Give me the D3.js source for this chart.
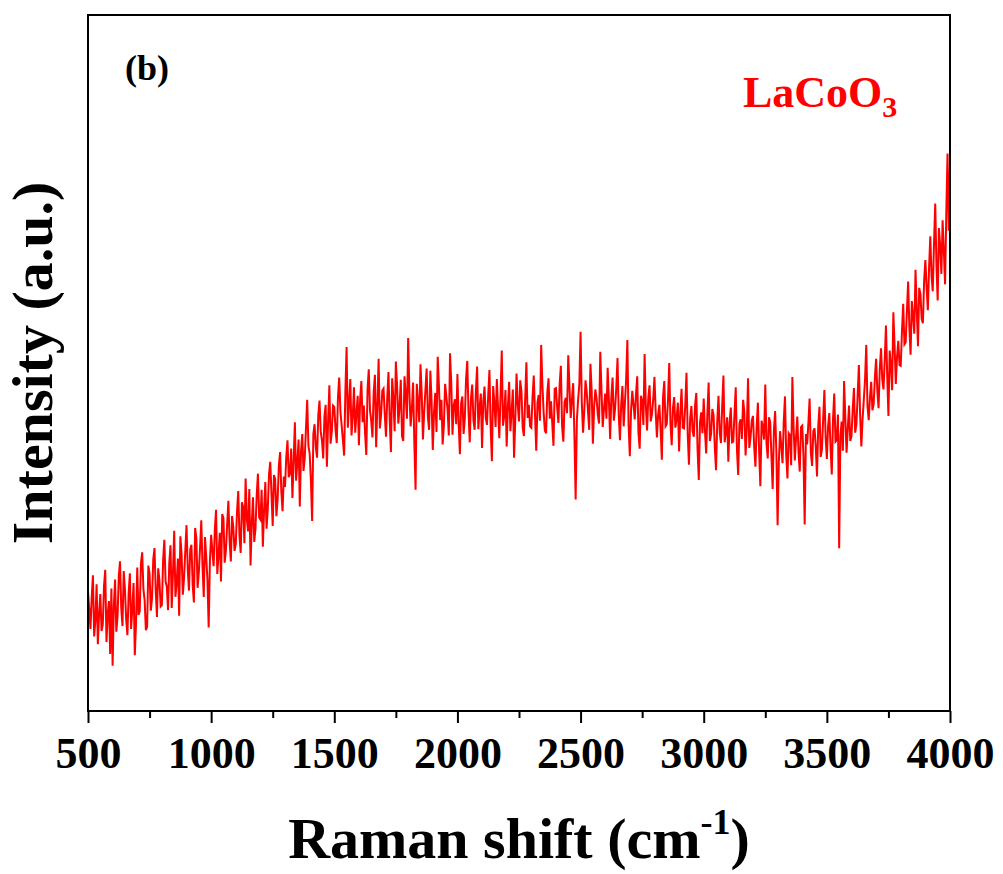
<!doctype html>
<html>
<head>
<style>
    body { margin: 0; background: #fff; }
    text { font-family: "Liberation Serif", "Times New Roman", serif; font-weight: bold; }
    .line { fill: none; stroke: #ff0000; stroke-width: 2px; stroke-linejoin: miter; }
</style>
<script src="https://d3js.org/d3.v7.min.js"></script>
</head>
<body>
<svg width="1003" height="874"></svg>
<script>

    // Raman shift: "intensity" read at 500, 510, ... 4000 cm-1,
    // "intensityMid" read in between, at 505, 515, ... 3995 cm-1
    var shiftStart = 500, shiftStep = 10;
    var intensity = [
        17.2, 11.8, 19.5, 13.1, 9.6, 16.8, 12.4, 20.3, 14.0, 8.2,
        6.5, 18.9, 13.6, 21.5, 12.2, 17.4, 10.9, 19.8, 14.7, 8.0,
        20.6, 14.3, 22.8, 15.9, 12.1, 19.7, 16.2, 23.4, 13.5, 18.8,
        15.2, 24.6, 17.9, 21.3, 14.8, 25.9, 18.4, 13.7, 22.5, 19.1,
        26.7, 17.3, 23.9, 15.6, 24.8, 19.9, 27.4, 16.4, 22.1, 12.0,
        25.3, 20.8, 28.9, 22.4, 18.6, 27.7, 23.1, 30.2, 21.5, 26.4,
        24.0, 31.6, 22.7, 29.3, 33.4, 25.8, 20.9, 30.7, 26.2, 34.1,
        27.5, 23.6, 32.9, 29.1, 35.8, 26.6, 33.3, 30.4, 37.2, 28.7,
        32.2, 38.9, 34.1, 30.6, 41.5, 35.7, 29.4, 39.8, 36.3, 44.7,
        37.0, 27.3, 41.2, 36.4, 44.6, 38.9, 42.3, 35.1, 46.8, 40.2,
        43.7, 38.5, 47.9, 41.0, 36.7, 52.3, 44.1, 39.6, 46.5, 42.8,
        38.2, 47.4, 43.9, 36.8, 49.1, 41.7, 45.8, 37.9, 50.6, 42.5,
        46.3, 39.4, 48.7, 37.2, 44.9, 50.2, 41.3, 47.6, 38.8, 45.5,
        53.6, 40.9, 47.2, 31.8, 44.4, 49.8, 39.0, 46.1, 42.2, 48.9,
        37.5, 45.7, 50.9, 41.8, 38.3, 47.0, 43.3, 51.4, 39.7, 44.8,
        48.4, 36.9, 45.2, 42.0, 50.3, 38.6, 46.9, 40.4, 49.5, 43.6,
        37.8, 46.6, 41.1, 49.0, 35.9, 44.3, 47.7, 39.2, 51.8, 42.4,
        38.0, 47.3, 43.0, 36.4, 48.5, 41.6, 45.9, 39.5, 50.1, 44.0,
        40.7, 48.2, 37.4, 45.4, 52.6, 42.9, 39.9, 47.8, 44.5, 38.1,
        46.4, 41.4, 49.6, 38.7, 45.0, 51.1, 42.1, 47.1, 30.4, 44.7,
        54.5, 40.0, 47.5, 43.2, 49.9, 38.4, 46.2, 42.6, 51.6, 40.8,
        45.6, 49.3, 39.1, 47.9, 43.4, 50.7, 38.9, 46.7, 44.2, 53.3,
        36.6, 46.0, 41.9, 48.1, 37.7, 44.6, 51.3, 40.3, 46.8, 42.7,
        48.0, 39.3, 44.0, 36.1, 47.4, 41.2, 50.0, 38.2, 45.1, 42.0,
        37.3, 46.3, 40.6, 48.6, 35.4, 43.8, 39.4, 45.7, 33.2, 42.9,
        44.9, 37.0, 47.2, 39.8, 42.5, 34.6, 45.3, 38.5, 48.2, 40.1,
        35.8, 43.6, 38.7, 46.5, 33.9, 41.9, 44.7, 36.7, 47.8, 39.2,
        42.4, 35.1, 44.3, 32.3, 40.8, 46.9, 36.3, 41.5, 31.9, 43.1,
        26.7, 40.2, 35.6, 45.2, 33.4, 39.6, 48.0, 36.0, 42.3, 34.4,
        41.0, 26.8, 38.3, 44.9, 35.2, 40.6, 33.7, 43.7, 37.6, 46.1,
        36.2, 42.8, 34.0, 45.6, 38.9, 23.4, 41.6, 47.4, 37.1, 43.9,
        39.5, 46.4, 41.2, 49.7, 38.0, 44.7, 52.6, 41.8, 47.3, 44.1,
        50.6, 43.5, 52.1, 46.2, 55.4, 42.4, 49.8, 57.3, 47.0, 53.2,
        49.6, 58.5, 53.0, 61.7, 51.2, 56.8, 63.4, 52.4, 59.9, 55.7,
        64.8, 57.6, 68.2, 60.3, 72.9, 59.0, 66.9, 70.5, 61.3, 80.1,
        78.4
    ];
    var intensityMid = [
        14.6, 16.3, 10.7, 18.2, 13.9, 11.5, 18.0, 9.9, 15.8, 17.6,
        15.1, 11.4, 19.3, 14.8, 20.1, 13.2, 16.9, 11.8, 18.4, 12.6,
        13.8, 21.2, 17.5, 11.6, 20.9, 14.4, 21.8, 17.3, 20.5, 15.0,
        21.7, 18.6, 14.5, 23.8, 19.8, 16.4, 21.9, 25.1, 16.7, 23.0,
        20.4, 23.2, 18.1, 26.3, 17.7, 23.5, 20.7, 25.0, 18.9, 21.6,
        22.9, 26.1, 19.7, 25.6, 28.3, 21.3, 26.8, 24.4, 28.0, 23.0,
        28.6, 25.2, 30.0, 24.1, 27.6, 31.9, 27.0, 24.3, 31.0, 27.8,
        31.8, 29.0, 26.2, 34.0, 31.2, 33.9, 28.0, 35.3, 31.5, 33.7,
        36.5, 33.6, 37.7, 35.9, 33.1, 39.0, 37.4, 34.5, 40.6, 38.1,
        33.2, 39.8, 37.9, 42.5, 40.1, 36.3, 44.0, 41.7, 38.4, 43.9,
        40.5, 45.1, 43.0, 38.9, 45.9, 40.7, 47.7, 42.3, 40.0, 45.3,
        44.8, 41.5, 39.9, 46.2, 43.2, 39.3, 48.3, 44.0, 40.6, 46.0,
        42.6, 45.0, 41.9, 47.8, 40.2, 46.8, 43.7, 39.5, 48.1, 42.0,
        45.8, 43.5, 38.5, 47.0, 41.5, 45.6, 43.0, 49.2, 40.4, 44.6,
        42.9, 40.1, 46.6, 44.7, 41.0, 45.2, 39.6, 47.1, 43.9, 41.2,
        41.4, 44.2, 39.8, 47.7, 43.0, 44.9, 41.8, 46.0, 40.5, 45.6,
        44.5, 42.1, 45.4, 40.6, 46.7, 40.8, 43.5, 45.3, 41.0, 46.1,
        43.8, 40.2, 46.2, 41.9, 44.0, 47.5, 40.7, 44.8, 42.1, 40.9,
        45.1, 42.6, 44.3, 41.7, 46.9, 40.3, 45.8, 42.0, 41.3, 46.3,
        43.6, 46.9, 40.9, 44.4, 42.8, 46.5, 44.8, 39.6, 41.9, 47.0,
        44.3, 43.1, 45.8, 40.4, 46.1, 43.7, 44.9, 41.3, 46.0, 43.4,
        42.0, 44.8, 45.2, 41.7, 46.4, 42.5, 44.1, 40.9, 47.6, 41.1,
        43.2, 44.0, 45.5, 40.0, 45.3, 41.1, 43.9, 45.0, 41.6, 44.8,
        43.0, 42.6, 40.4, 45.2, 40.9, 44.7, 41.3, 43.5, 40.7, 44.3,
        42.8, 40.7, 43.9, 39.8, 42.1, 40.2, 44.0, 37.6, 41.5, 39.9,
        40.3, 42.9, 38.8, 43.4, 37.9, 41.6, 40.0, 43.8, 38.6, 42.2,
        41.4, 38.6, 42.7, 37.5, 41.3, 39.1, 42.9, 40.5, 37.8, 41.7,
        37.9, 40.8, 37.3, 41.7, 39.0, 38.4, 42.2, 36.6, 40.3, 37.2,
        35.8, 38.1, 41.6, 36.8, 39.9, 35.3, 40.7, 39.4, 37.0, 40.8,
        36.7, 39.8, 41.4, 37.1, 40.2, 38.0, 40.9, 36.5, 42.0, 39.3,
        40.9, 37.8, 41.9, 38.7, 42.6, 39.5, 37.4, 42.1, 40.6, 38.8,
        43.4, 40.0, 45.3, 42.6, 41.9, 47.6, 43.8, 45.0, 43.2, 47.9,
        45.9, 49.2, 47.6, 50.4, 48.3, 51.8, 46.1, 52.5, 50.9, 49.7,
        54.6, 52.7, 57.4, 55.1, 58.9, 54.2, 57.8, 60.8, 56.3, 61.9,
        60.9, 63.7, 62.5, 67.1, 64.0, 69.4, 62.8, 66.1, 71.7, 69.0
    ];
    var majorTicks = [500, 1000, 1500, 2000, 2500, 3000, 3500, 4000];
    var minorTicks = [750, 1250, 1750, 2250, 2750, 3250, 3750];

    // merge both readings into one ordered table
    var spectrum = [];
    intensity.forEach(function(v, i) {
        spectrum.push({ shift: shiftStart + i * shiftStep, value: v });
        if (i < intensityMid.length) {
            spectrum.push({ shift: shiftStart + i * shiftStep + shiftStep / 2, value: intensityMid[i] });
        }
    });

    var svg = d3.select("svg"),
        marginLeft = 88, marginTop = 15,
        width = 862, height = 696;

    var x = d3.scaleLinear().domain([500, 4000]).range([0, width]),
        y = d3.scaleLinear().domain([0, 100]).range([height, 0]);

    var g = svg.append("g")
        .attr("transform", "translate(" + marginLeft + "," + marginTop + ")");

    g.append("defs").append("clipPath").attr("id", "clip")
        .append("rect").attr("width", width).attr("height", height);

    var line = d3.line()
        .x(function(d) { return x(d.shift); })
        .y(function(d) { return y(d.value); });

    g.append("path")
        .datum(spectrum)
        .attr("class", "line")
        .attr("clip-path", "url(#clip)")
        .attr("d", line);

    // minor ticks
    g.append("g")
        .attr("transform", "translate(0," + height + ")")
        .call(d3.axisBottom(x).tickValues(minorTicks).tickSize(7).tickSizeOuter(0).tickFormat(""))
        .call(function(a) { a.select(".domain").remove(); })
        .selectAll("line").attr("stroke-width", 2);

    // major ticks + labels
    var xAxis = g.append("g")
        .attr("transform", "translate(0," + height + ")")
        .call(d3.axisBottom(x).tickValues(majorTicks).tickSize(12).tickSizeOuter(0).tickFormat(d3.format("d")));
    xAxis.select(".domain").remove();
    xAxis.selectAll("line").attr("stroke-width", 2);
    xAxis.selectAll("text")
        .attr("y", 57)
        .attr("dy", 0)
        .attr("font-size", "44px")
        .attr("font-family", "Liberation Serif, Times New Roman, serif")
        .attr("font-weight", "bold")
        .attr("fill", "#000");

    // frame
    g.append("rect")
        .attr("width", width)
        .attr("height", height)
        .attr("fill", "none")
        .attr("stroke", "#000")
        .attr("stroke-width", 2);

    // axis titles
    var xt = svg.append("text")
        .attr("x", marginLeft + width / 2)
        .attr("y", 858)
        .attr("text-anchor", "middle")
        .attr("font-size", "58px");
    xt.append("tspan").text("Raman shift (cm");
    xt.append("tspan").attr("font-size", "36px").attr("dy", "-24").text("-1");
    xt.append("tspan").attr("dy", "24").text(")");

    svg.append("text")
        .attr("transform", "translate(52," + (marginTop + height / 2) + ") rotate(-90)")
        .attr("text-anchor", "middle")
        .attr("font-size", "58px")
        .text("Intensity (a.u.)");

    // annotations
    svg.append("text")
        .attr("x", 125)
        .attr("y", 80)
        .attr("font-size", "36px")
        .text("(b)");

    var lab = svg.append("text")
        .attr("x", 743)
        .attr("y", 107)
        .attr("font-size", "44px")
        .attr("fill", "#ff0000");
    lab.append("tspan").text("LaCoO");
    lab.append("tspan").attr("font-size", "30px").attr("dy", "10").text("3");

</script>
</body>
</html>
